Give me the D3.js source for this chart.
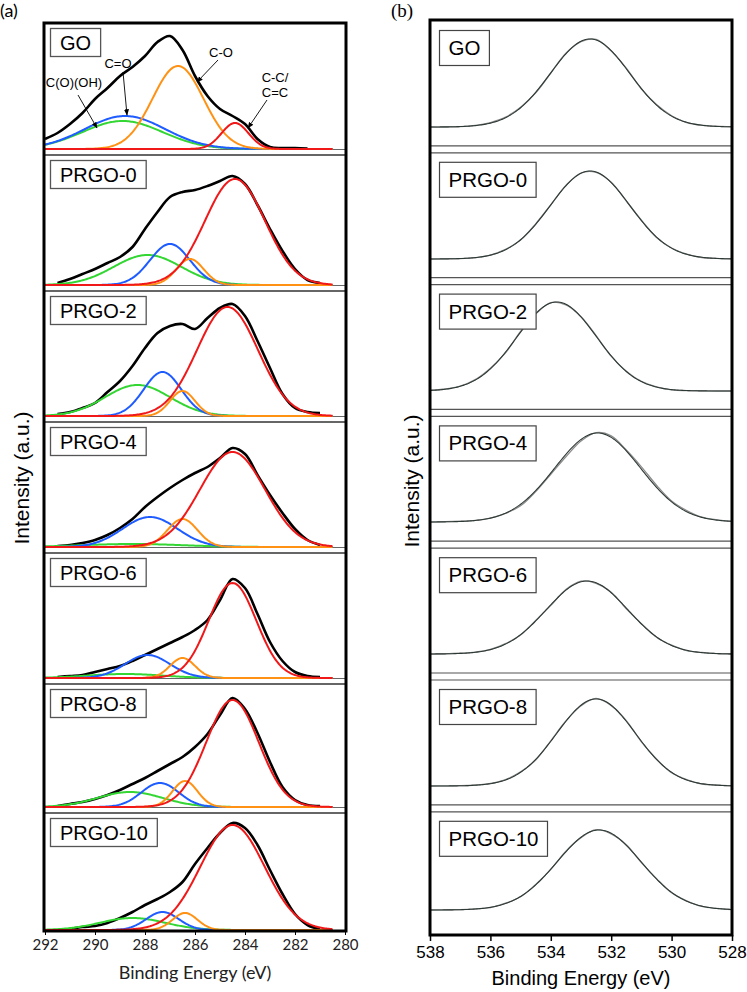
<!DOCTYPE html>
<html><head><meta charset="utf-8">
<script src="https://cdn.jsdelivr.net/npm/d3@7"></script>
<style>body{margin:0;background:#fff}svg{display:block}</style>
</head><body>
<svg id="c" width="747" height="992"></svg>
<script>
// ---------------- DATA ----------------
const samples = ['GO','PRGO-0','PRGO-2','PRGO-4','PRGO-6','PRGO-8','PRGO-10'];

// (a) C1s: measured spectra (intensity, a.u.) on this energy grid
const c1sEnergy = [292.0,291.5,291.0,290.5,290.0,289.5,289.0,288.5,288.0,287.5,287.0,286.5,286.0,285.5,285.0,284.5,284.0,283.5,283.0,282.5,282.0,281.5,281.0];
const c1sGO     = [10,16,25,36,50,61,73,82,93,107,113,99,73,53,40,33,25,10,2,1,1,0.5,null];
const c1sPRGO0  = [null,2,6,11,16,22,28,38,56,73,88,93,95,99,104,109,101,80,56,34,16,5,2];
const c1sPRGO2  = [null,2,4,8,13,24,35,50,68,83,90,92,87,98,108,112,100,75,48,22,8,4,3];
const c1sPRGO4  = [null,1,2,4,7,12,19,28,40,50,59,67,74,80,89,99,93,72,52,34,18,7,2];
const c1sPRGO6  = [null,1,2,3,6,9,12,17,23,29,35,41,48,58,78,99,90,64,36,17,6,2,1];
const c1sPRGO8  = [null,1,3,5,8,12,17,23,29,36,43,50,60,73,92,109,98,74,45,20,7,2,1];
const c1sPRGO10 = [null,null,1,3,4,7,12,18,25,31,38,48,66,82,97,107,102,85,60,36,16,5,1];
const c1sData = [c1sGO,c1sPRGO0,c1sPRGO2,c1sPRGO4,c1sPRGO6,c1sPRGO8,c1sPRGO10];

// (a) fitted components: centre (eV), height (a.u.), width sigma (eV)
const ccCenter = [284.4,284.4,284.7,284.5,284.5,284.5,284.5];
const ccHeight = [26,106,109,95,95,107,105];
const ccSigma  = [0.54,1.2,1.22,1.3,0.95,1.05,1.28];
const coCenter = [286.68,286.2,286.5,286.5,286.5,286.4,286.4];
const coHeight = [83,26,25,28,20,26,17];
const coSigma  = [1.02,0.55,0.5,0.6,0.5,0.5,0.5];
const cdoCenter = [288.8,287.0,287.3,287.8,287.9,287.4,287.3];
const cdoHeight = [33,41,44,30,23,24,18];
const cdoSigma  = [1.6,0.8,0.75,1.1,0.9,0.75,0.65];
const coohCenter = [288.9,287.9,288.3,288.5,288.8,288.6,288.5];
const coohHeight = [28,30,31,3,4,15,12];
const coohSigma  = [1.6,1.35,1.3,2.0,1.5,1.3,1.3];

const componentNames  = ['C(O)(OH)','C=O','C-O','C-C/C=C'];
const componentColors = ['#33d633','#1f5cff','#ff9214','#f01818'];

// GO annotations: label position and arrow (eV, a.u.)
const annLabels = [['C(O)(OH)'],['C=O'],['C-O'],['C-C/','C=C']];
const annLabelE = [290.84,289.08,284.96,282.8];
const annLabelI = [67,86,97,72];
const annFromE  = [290.68,288.88,285.08,283.12];
const annFromI  = [54,77,89,49];
const annTipE   = [289.92,288.72,285.92,283.88];
const annTipI   = [21,34,67,21];

const c1sTicks = [292,290,288,286,284,282,280];

// (b) O1s: measured spectra on this grid
const o1sEnergy = [538,537.5,537,536.5,536,535.5,535,534.5,534,533.5,533,532.5,532,531.5,531,530.5,530,529.5,529,528.5,528];
const o1sGO     = [0,0,0.4,1.6,4.4,9.8,19.8,34.2,54.0,73.8,85.4,87.6,76.0,58.8,38.0,22.4,11.2,4.4,1.8,0.8,0.2];
const o1sPRGO0  = [0,0.2,0.4,1.4,3.9,9.6,19.0,35.2,54.2,73.6,86.0,86.6,76.8,58.0,38.8,21.6,11.0,4.8,1.5,0.6,0];
const o1sPRGO2  = [0.8,2.0,4.9,11.4,22.8,38.2,59.6,77.0,88.4,86.2,74.4,55.4,34.8,19.8,9.6,4.2,1.2,0.4,0.2,0,0];
const o1sPRGO4  = [0,0.3,0.8,1.6,3.8,8.6,16.2,30.4,47.8,65.2,81.0,89.4,86.2,72.0,55.2,36.8,21.0,11.4,4.8,2.2,0.8];
const o1sPRGO6  = [0,0.2,0.8,1.9,4.6,10.4,19.0,33.6,48.6,64.4,72.8,70.6,61.8,45.2,30.4,16.8,8.8,3.4,1.6,0.4,0];
const o1sPRGO8  = [0,0.1,0.3,1.0,2.6,6.4,14.2,26.0,45.2,65.0,80.2,87.6,80.4,65.4,44.2,27.0,13.2,6.4,2.0,1.0,0.2];
const o1sPRGO10 = [0,0.2,0.4,1.2,2.4,6.8,13.2,25.6,40.6,58.8,72.4,80.4,76.2,65.2,47.4,31.4,17.2,9.2,3.6,1.6,0.4];
const o1sData = [o1sGO,o1sPRGO0,o1sPRGO2,o1sPRGO4,o1sPRGO6,o1sPRGO8,o1sPRGO10];
// (b) fitted envelope parameters
const o1sCenter = [532.7,532.7,533.8,532.45,532.8,532.5,532.4];
const o1sHeight = [88,88,89,89,73,87,80];
const o1sSigma  = [1.32,1.32,1.32,1.42,1.35,1.3,1.38];

const o1sTicks = [538,536,534,532,530,528];

// ---------------- DRAW ----------------
const svg = d3.select('#c');
const SANS = '"Liberation Sans", Arial, sans-serif';
const CAL = 'Lato, "Open Sans", sans-serif';
const gauss = (e,c,h,s) => h*Math.exp(-((e-c)*(e-c))/(2*s*s));

// ---- panel (a) ----
const aL = 45, aR = 345, aT = 23, aB = 931;
const ax = d3.scaleLinear().domain([292,280]).range([aL,aR]);
const aTops = [23,155,291,422,553,684,813];
const aBase = aTops.map((t,i) => i < aTops.length-1 ? aTops[i+1]-6 : aB-1);

const defs = svg.append('defs');
defs.append('clipPath').attr('id','clipA')
  .append('rect').attr('x',aL).attr('y',aT).attr('width',aR-aL).attr('height',aB-aT);
defs.append('clipPath').attr('id','clipB')
  .append('rect').attr('x',430).attr('y',20).attr('width',302).attr('height',915);
defs.append('marker').attr('id','arr').attr('viewBox','0 0 10 10').attr('refX',9).attr('refY',5)
  .attr('markerWidth',7).attr('markerHeight',7).attr('orient','auto-start-reverse')
  .append('path').attr('d','M0,1 L10,5 L0,9 Z').attr('fill','#000');

const gA = svg.append('g').attr('clip-path','url(#clipA)');
const fineE = d3.range(292, 280.49, -0.05);

samples.forEach((name,i) => {
  const base = aBase[i];
  const y = d3.scaleLinear().domain([0,100]).range([base, base-100]);
  if (i > 0) gA.append('line').attr('x1',aL).attr('x2',aR).attr('y1',aTops[i]).attr('y2',aTops[i])
      .attr('stroke','#333').attr('stroke-width',1.5);
  if (i < samples.length-1) gA.append('line').attr('x1',aL).attr('x2',aR).attr('y1',base+0.5).attr('y2',base+0.5)
      .attr('stroke','#666').attr('stroke-width',1);
  const pts = c1sEnergy.map((e,k) => [e, c1sData[i][k]]);
  gA.append('path').datum(pts)
    .attr('d', d3.line().defined(d => d[1] !== null).x(d => ax(d[0])).y(d => y(d[1])).curve(d3.curveCatmullRom))
    .attr('fill','none').attr('stroke','#000').attr('stroke-width',2.6).attr('stroke-linejoin','round');
  const comps = [
    [coohCenter[i],coohHeight[i],coohSigma[i]],
    [cdoCenter[i],cdoHeight[i],cdoSigma[i]],
    [coCenter[i],coHeight[i],coSigma[i]],
    [ccCenter[i],ccHeight[i],ccSigma[i]]
  ];
  comps.forEach((p,j) => {
    gA.append('path').datum(fineE.map(e => [e, gauss(e,p[0],p[1],p[2])]))
      .attr('d', d3.line().x(d => ax(d[0])).y(d => y(d[1])))
      .attr('fill','none').attr('stroke',componentColors[j]).attr('stroke-width',2);
  });
  const lab = svg.append('g');
  const t = lab.append('text').attr('y',aTops[i]+5+21.5)
    .attr('font-family',SANS).attr('font-size',20).attr('fill','#000').text(name);
  const w = t.node().getComputedTextLength();
  lab.insert('rect','text').attr('x',aL+5.5).attr('y',aTops[i]+5.5).attr('width',w+19).attr('height',28)
    .attr('fill','#fff').attr('stroke','#555').attr('stroke-width',1.3);
  t.attr('x', aL+5.5+9.5);

  if (i === 0) {
    annLabels.forEach((lines,k) => {
      lines.forEach((ln,m) => {
        svg.append('text').attr('x',ax(annLabelE[k])).attr('y',y(annLabelI[k]) + 4.5 + m*15)
          .attr('text-anchor','middle').attr('font-family',SANS).attr('font-size',13).text(ln);
      });
      svg.append('line').attr('x1',ax(annFromE[k])).attr('y1',y(annFromI[k]))
        .attr('x2',ax(annTipE[k])).attr('y2',y(annTipI[k]))
        .attr('stroke','#000').attr('stroke-width',0.9).attr('marker-end','url(#arr)');
    });
  }
});

svg.append('rect').attr('x',aL-1).attr('y',aT).attr('width',aR-aL+2).attr('height',aB-aT)
  .attr('fill','none').attr('stroke','#000').attr('stroke-width',3);

const axA = svg.append('g').attr('transform',`translate(0,${aB})`)
  .call(d3.axisBottom(ax).tickValues(c1sTicks).tickFormat(d3.format('d')).tickSize(4).tickPadding(4));
axA.select('.domain').remove();
axA.selectAll('text').attr('font-family',CAL).attr('font-size',15).attr('fill','#222');
axA.selectAll('line').attr('stroke','#000');
svg.append('text').attr('x',(aL+aR)/2).attr('y',979).attr('text-anchor','middle')
  .attr('font-family',CAL).attr('font-size',18).attr('fill','#222').text('Binding Energy (eV)');
svg.append('text').attr('transform','translate(29,478) rotate(-90)').attr('text-anchor','middle')
  .attr('font-family',SANS).attr('font-size',21).text('Intensity (a.u.)');
svg.append('text').attr('x',0).attr('y',17).attr('font-family',CAL).attr('font-size',18).text('(a)');

// ---- panel (b) ----
const bL = 430, bR = 732, bT = 20, bB = 935;
const bx = d3.scaleLinear().domain([538,528]).range([bL,bR]);
const bPeriod = 131.8;
const bTops = samples.map((s,i) => bT + i*bPeriod);
const bBase = [127,259,391,522,654,786,910];
const gB = svg.append('g').attr('clip-path','url(#clipB)');
const fineB = d3.range(538, 527.99, -0.05);

samples.forEach((name,i) => {
  const base = bBase[i];
  const y = d3.scaleLinear().domain([0,100]).range([base, base-100]);
  if (i < samples.length-1) {
    const nt = bTops[i+1];
    [nt-6, nt+1].forEach(yy => gB.append('line').attr('x1',bL).attr('x2',bR).attr('y1',yy).attr('y2',yy)
      .attr('stroke','#555').attr('stroke-width',1.2));
  }
  gB.append('path').datum(o1sEnergy.map((e,k) => [e,o1sData[i][k]]))
    .attr('d', d3.line().x(d => bx(d[0])).y(d => y(d[1])).curve(d3.curveCatmullRom))
    .attr('fill','none').attr('stroke','#8c8c8c').attr('stroke-width',1.3);
  gB.append('path').datum(fineB.map(e => [e, gauss(e,o1sCenter[i],o1sHeight[i],o1sSigma[i])]))
    .attr('d', d3.line().x(d => bx(d[0])).y(d => y(d[1])))
    .attr('fill','none').attr('stroke','#2e3a36').attr('stroke-width',1.1);
  const lab = svg.append('g');
  const t = lab.append('text').attr('y',bTops[i]+10+25)
    .attr('font-family',SANS).attr('font-size',20.5).attr('fill','#000').text(name);
  const w = t.node().getComputedTextLength();
  lab.insert('rect','text').attr('x',bL+9.5).attr('y',bTops[i]+10.5).attr('width',w+18).attr('height',35)
    .attr('fill','#fff').attr('stroke','#444').attr('stroke-width',1.2);
  t.attr('x', bL+9.5+9);
});

svg.append('rect').attr('x',bL).attr('y',bT).attr('width',bR-bL).attr('height',bB-bT)
  .attr('fill','none').attr('stroke','#000').attr('stroke-width',3);
const axB = svg.append('g').attr('transform',`translate(0,${bB})`)
  .call(d3.axisBottom(bx).tickValues(o1sTicks).tickFormat(d3.format('d')).tickSize(6).tickPadding(5));
axB.select('.domain').remove();
axB.selectAll('text').attr('font-family',SANS).attr('font-size',17).attr('fill','#000');
axB.selectAll('line').attr('stroke','#000').attr('stroke-width',1.5);
svg.append('text').attr('x',(bL+bR)/2).attr('y',985).attr('text-anchor','middle')
  .attr('font-family',SANS).attr('font-size',20).text('Binding Energy (eV)');
svg.append('text').attr('transform','translate(419,481) rotate(-90)').attr('text-anchor','middle')
  .attr('font-family',SANS).attr('font-size',21).text('Intensity (a.u.)');
svg.append('text').attr('x',391).attr('y',17).attr('font-family','"Liberation Serif", serif').attr('font-size',19).text('(b)');
</script>
</body></html>
